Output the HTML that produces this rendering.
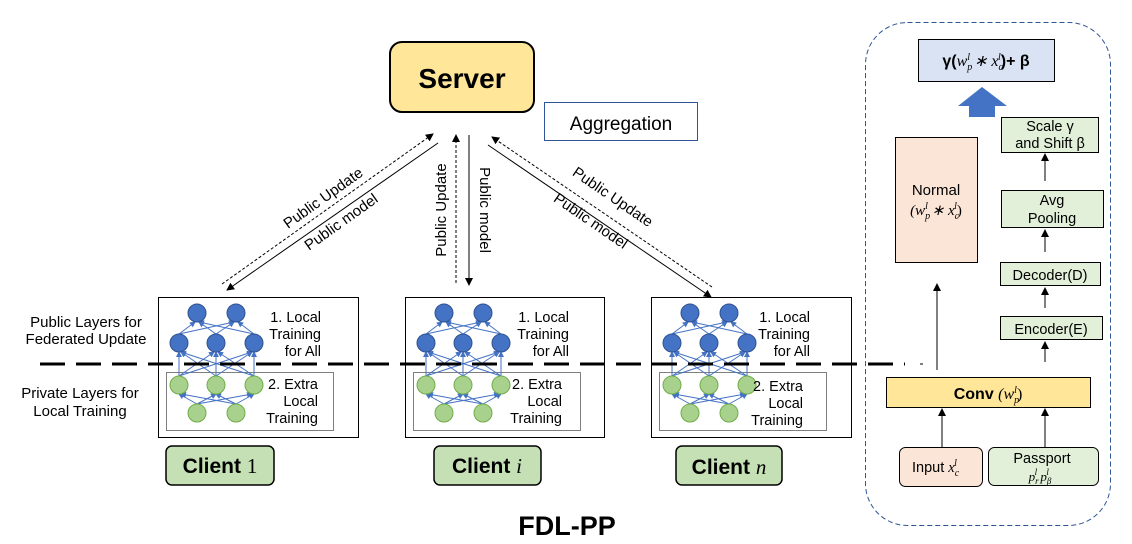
<!DOCTYPE html>
<html><head><meta charset="utf-8"><style>
html,body{margin:0;padding:0;background:#fff;}
svg{display:block;font-family:"Liberation Sans","Noto Sans CJK SC",sans-serif;}
</style></head><body>
<svg width="1132" height="544" viewBox="0 0 1132 544" xmlns="http://www.w3.org/2000/svg">
<defs>
<marker id="ah" markerWidth="8" markerHeight="8" refX="7" refY="4" orient="auto" markerUnits="userSpaceOnUse"><path d="M0,0 L8,4 L0,8 z" fill="#000"/></marker>
<marker id="bh" markerWidth="6" markerHeight="6" refX="5" refY="3" orient="auto" markerUnits="userSpaceOnUse"><path d="M0,0 L6,3 L0,6 z" fill="#4472c4"/></marker>
<g id="net">
<g stroke="#4472c4" stroke-width="1" marker-end="url(#bh)">
<line x1="39" y1="107" x2="21" y2="97"/><line x1="39" y1="107" x2="58" y2="97"/><line x1="39" y1="107" x2="94" y2="97"/>
<line x1="78" y1="107" x2="23" y2="97"/><line x1="78" y1="107" x2="58" y2="97"/><line x1="78" y1="107" x2="96" y2="97"/>
<line x1="21" y1="79" x2="21" y2="55"/><line x1="21" y1="79" x2="56" y2="55"/><line x1="21" y1="79" x2="94" y2="55"/>
<line x1="58" y1="79" x2="23" y2="55"/><line x1="58" y1="79" x2="58" y2="55"/><line x1="58" y1="79" x2="94" y2="55"/>
<line x1="96" y1="79" x2="23" y2="55"/><line x1="96" y1="79" x2="60" y2="55"/><line x1="96" y1="79" x2="96" y2="55"/>
<line x1="21" y1="37" x2="37" y2="25"/><line x1="21" y1="37" x2="76" y2="25"/>
<line x1="58" y1="37" x2="41" y2="25"/><line x1="58" y1="37" x2="76" y2="25"/>
<line x1="96" y1="37" x2="41" y2="25"/><line x1="96" y1="37" x2="80" y2="25"/>
</g>
<g fill="#4472c4" stroke="#2f528f" stroke-width="1">
<circle cx="39" cy="16" r="9"/><circle cx="78" cy="16" r="9"/>
<circle cx="21" cy="46" r="9"/><circle cx="58" cy="46" r="9"/><circle cx="96" cy="46" r="9"/>
</g>
<g fill="#a9d18e" stroke="#70ad47" stroke-width="1">
<circle cx="21" cy="88" r="9"/><circle cx="58" cy="88" r="9"/><circle cx="96" cy="88" r="9"/>
<circle cx="39" cy="116" r="9"/><circle cx="78" cy="116" r="9"/>
</g>
</g>
</defs>

<rect x="390" y="42" width="144" height="70" rx="12" fill="#ffe699" stroke="#000" stroke-width="2"/>
<text x="462" y="88" font-size="28" font-weight="bold" text-anchor="middle">Server</text>
<rect x="544.5" y="102.5" width="153" height="38" fill="#fff" stroke="#2f5597" stroke-width="1"/>
<text x="621" y="130" font-size="19" text-anchor="middle">Aggregation</text>

<g stroke="#000" stroke-width="1" fill="none">
<line x1="222" y1="284" x2="433" y2="134" stroke-dasharray="3,2" marker-end="url(#ah)"/>
<line x1="438" y1="143" x2="227" y2="290" marker-end="url(#ah)"/>
<line x1="456" y1="283" x2="456" y2="135" stroke-dasharray="3,2" marker-end="url(#ah)"/>
<line x1="469" y1="135" x2="469" y2="285" marker-end="url(#ah)"/>
<line x1="712" y1="287" x2="492" y2="137" stroke-dasharray="3,2" marker-end="url(#ah)"/>
<line x1="488" y1="145" x2="711" y2="297" marker-end="url(#ah)"/>
</g>
<g font-size="15">
<text transform="translate(326,202) rotate(-35.5)" text-anchor="middle">Public Update</text>
<text transform="translate(344,226) rotate(-35.5)" text-anchor="middle">Public model</text>
<text transform="translate(446,210) rotate(-90)" text-anchor="middle">Public Update</text>
<text transform="translate(480,210) rotate(90)" text-anchor="middle">Public model</text>
<text transform="translate(610,201) rotate(34.5)" text-anchor="middle">Public Update</text>
<text transform="translate(588,225) rotate(34.5)" text-anchor="middle">Public model</text>
</g>

<g font-size="14.5" text-anchor="end">
<g transform="translate(158,297)">
<rect x="0.5" y="0.5" width="200" height="140" fill="#fff" stroke="#000"/>
<rect x="8.5" y="75.5" width="167" height="58" fill="none" stroke="#7f7f7f"/>
<use href="#net"/>
<text x="163" y="25">1. Local</text><text x="163" y="42">Training</text><text x="163" y="59">for All</text>
<text x="160" y="92">2. Extra</text><text x="160" y="109">Local</text><text x="160" y="126">Training</text>
</g>
<g transform="translate(405,297)">
<rect x="0.5" y="0.5" width="199" height="140" fill="#fff" stroke="#000"/>
<rect x="8.5" y="75.5" width="167" height="58" fill="none" stroke="#7f7f7f"/>
<use href="#net"/>
<text x="164" y="25">1. Local</text><text x="164" y="42">Training</text><text x="164" y="59">for All</text>
<text x="157" y="92">2. Extra</text><text x="157" y="109">Local</text><text x="157" y="126">Training</text>
</g>
<g transform="translate(651,297)">
<rect x="0.5" y="0.5" width="200" height="140" fill="#fff" stroke="#000"/>
<rect x="8.5" y="75.5" width="167" height="58" fill="none" stroke="#7f7f7f"/>
<use href="#net"/>
<text x="159" y="25">1. Local</text><text x="159" y="42">Training</text><text x="159" y="59">for All</text>
<text x="152" y="94">2. Extra</text><text x="152" y="111">Local</text><text x="152" y="128">Training</text>
</g>
</g>

<g fill="#c5e0b4" stroke="#000" stroke-width="1.5">
<rect x="166" y="446" width="108" height="39" rx="6"/>
<rect x="434" y="446" width="107" height="39" rx="6"/>
<rect x="676" y="446" width="106" height="39" rx="6"/>
</g>
<g font-size="21" font-weight="bold" text-anchor="middle">
<text x="220" y="473">Client <tspan font-weight="normal" font-family="Liberation Serif,serif">1</tspan></text>
<text x="487" y="473">Client <tspan font-weight="normal" font-style="italic" font-family="Liberation Serif,serif">i</tspan></text>
<text x="729" y="474">Client <tspan font-weight="normal" font-style="italic" font-family="Liberation Serif,serif">n</tspan></text>
</g>

<g font-size="15" text-anchor="middle">
<text x="86" y="327">Public Layers for</text>
<text x="86" y="344">Federated Update</text>
<text x="80" y="398">Private Layers for</text>
<text x="80" y="416">Local Training</text>
</g>

<line x1="40" y1="364" x2="905" y2="364" stroke="#000" stroke-width="3" stroke-dasharray="25,11"/>
<line x1="920" y1="364" x2="923" y2="364" stroke="#000" stroke-width="1"/>

<text x="567" y="535" font-size="27" font-weight="bold" text-anchor="middle">FDL-PP</text>

<rect x="865.5" y="22.5" width="245" height="503" rx="42" fill="none" stroke="#2f5597" stroke-dasharray="5,3"/>
<rect x="918.5" y="39.5" width="136" height="42" fill="#dae3f3" stroke="#000"/>
<text x="986" y="66" font-size="16" font-weight="bold" text-anchor="middle">γ(<tspan font-family="Liberation Serif,serif" font-style="italic" font-weight="normal">w<tspan font-size="10" dy="4">p</tspan><tspan font-size="10" dx="-5" dy="-10">l</tspan><tspan dy="6"> ∗ x</tspan><tspan font-size="10" dy="4">c</tspan><tspan font-size="10" dx="-5" dy="-10">l</tspan></tspan><tspan dy="6">)+ β</tspan></text>
<path d="M958,106 L982,87 L1007,106 L995,106 L995,117 L969,117 L969,106 z" fill="#4472c4"/>

<rect x="895.5" y="137.5" width="82" height="125" fill="#fbe5d6" stroke="#000"/>
<text x="936" y="195" font-size="15" text-anchor="middle">Normal</text>
<text x="936" y="215" font-size="15" text-anchor="middle" font-family="Liberation Serif,serif" font-style="italic">(w<tspan font-size="10" dy="4">p</tspan><tspan font-size="10" dx="-5" dy="-10">l</tspan><tspan dy="6"> ∗ x</tspan><tspan font-size="10" dy="4">c</tspan><tspan font-size="10" dx="-5" dy="-10">l</tspan><tspan dy="6" font-style="normal">)</tspan></text>

<g fill="#e2f0d9" stroke="#000">
<rect x="1001.5" y="117.5" width="97" height="35"/>
<rect x="1001.5" y="190.5" width="102" height="37"/>
<rect x="1000.5" y="262.5" width="100" height="23"/>
<rect x="1000.5" y="316.5" width="102" height="23"/>
</g>
<g font-size="14.5" text-anchor="middle">
<text x="1050" y="131">Scale γ</text><text x="1050" y="148">and Shift β</text>
<text x="1052" y="205">Avg</text><text x="1052" y="223">Pooling</text>
<text x="1050" y="280">Decoder(D)</text>
<text x="1051" y="334">Encoder(E)</text>
</g>

<rect x="886.5" y="377.5" width="204" height="30" fill="#ffe699" stroke="#000"/>
<text x="988" y="399" font-size="16" font-weight="bold" text-anchor="middle">Conv <tspan font-weight="normal" font-family="Liberation Serif,serif" font-style="italic">(w<tspan font-size="10" dy="4">p</tspan><tspan font-size="10" dx="-5" dy="-10">l</tspan><tspan dy="6" font-style="normal">)</tspan></tspan></text>

<rect x="899.5" y="447.5" width="83" height="39" rx="6" fill="#fbe5d6" stroke="#000"/>
<text x="912" y="472" font-size="14.5">Input <tspan font-family="Liberation Serif,serif" font-style="italic">x<tspan font-size="10" dy="4">c</tspan><tspan font-size="10" dx="-5" dy="-10">l</tspan></tspan></text>
<rect x="988.5" y="447.5" width="110" height="38" rx="6" fill="#e2f0d9" stroke="#000"/>
<text x="1042" y="463" font-size="14.5" text-anchor="middle">Passport</text>
<text x="1040" y="481" font-size="13" text-anchor="middle" font-family="Liberation Serif,serif" font-style="italic">p<tspan font-size="9" dy="3">r</tspan><tspan font-size="9" dx="-4" dy="-9">l</tspan><tspan dy="6">  p</tspan><tspan font-size="9" dy="3">β</tspan><tspan font-size="9" dx="-5" dy="-9">l</tspan></text>

<g stroke="#000" stroke-width="1">
<line x1="942" y1="447" x2="942" y2="409" marker-end="url(#ah)"/>
<line x1="1045" y1="447" x2="1045" y2="409" marker-end="url(#ah)"/>
<line x1="937" y1="370" x2="937" y2="284" marker-end="url(#ah)"/>
<line x1="1045" y1="362" x2="1045" y2="342" marker-end="url(#ah)"/>
<line x1="1045" y1="308" x2="1045" y2="288" marker-end="url(#ah)"/>
<line x1="1045" y1="252" x2="1045" y2="230" marker-end="url(#ah)"/>
<line x1="1045" y1="181" x2="1045" y2="154" marker-end="url(#ah)"/>
</g>
</svg>
</body></html>
